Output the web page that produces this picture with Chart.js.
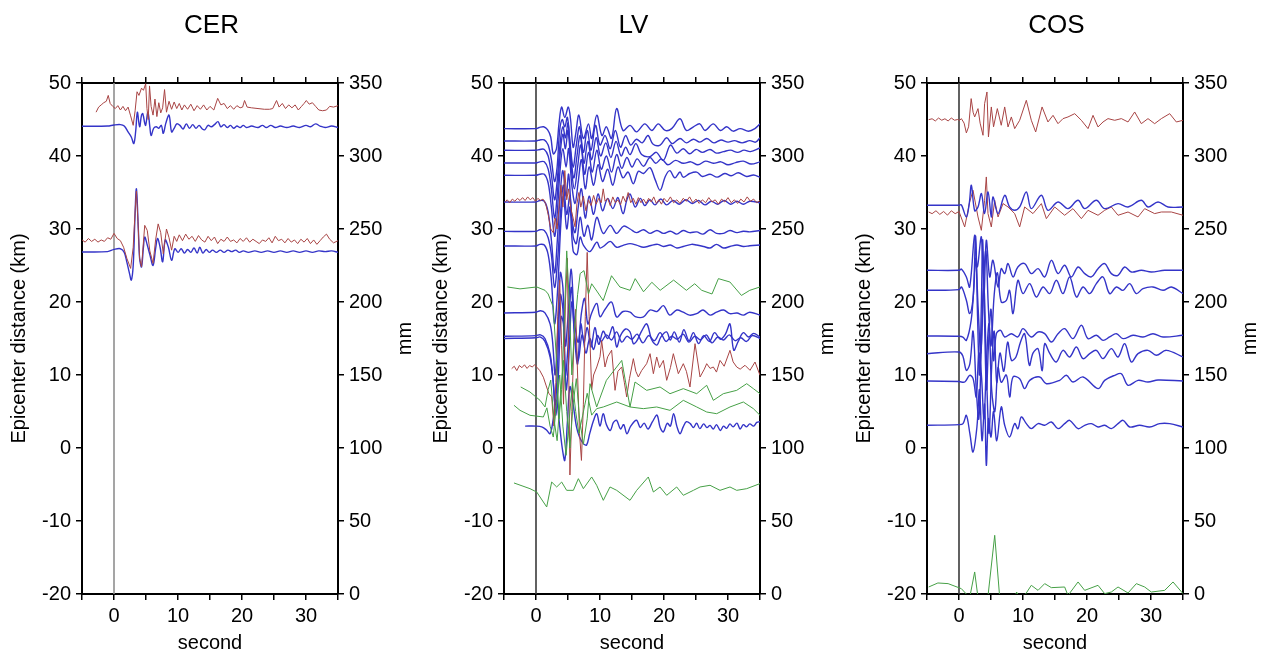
<!DOCTYPE html>
<html><head><meta charset="utf-8">
<script src="https://cdn.jsdelivr.net/npm/chart.js@4.4.1/dist/chart.umd.min.js"></script>
<style>
html,body{margin:0;padding:0;background:#fff;width:1270px;height:655px;overflow:hidden}
.p{position:absolute;top:0;width:423px;height:655px}
</style></head><body>
<div class="p" style="left:0px"><canvas id="c0" width="423" height="655"></canvas></div>
<div class="p" style="left:422px"><canvas id="c1" width="423" height="655"></canvas></div>
<div class="p" style="left:845px"><canvas id="c2" width="423" height="655"></canvas></div>
<script>
// ---------- labels / axes ----------
const panelTitles = ['CER', 'LV', 'COS'];
const xLabel = 'second';
const yLabel = 'Epicenter distance (km)';
const y2Label = 'mm';
const xRange = [-5, 35];
const yRange = [-20, 50];
const y2Range = [0, 350];
const xLabelTicks = [0, 10, 20, 30];

// ---------- CER traces [time s, epicenter km] ----------
const cerRed1 = [[-2.8,46.0],[-2.4,46.7],[-2.0,47.0],[-1.6,47.3],[-1.2,47.5],[-0.9,48.3],[-0.6,47.2],[-0.2,46.8],[0.2,46.5],[0.6,46.9],[1.0,46.3],[1.4,46.8],[1.8,46.2],[2.2,46.7],[2.6,45.5],[3.0,44.2],[3.3,46.2],[3.6,48.8],[3.9,48.3],[4.3,49.3],[4.6,49.0],[4.95,49.9],[5.15,46.5],[5.35,45.0],[5.55,49.6],[5.8,46.8],[6.1,45.6],[6.4,47.8],[6.7,45.4],[7.0,47.3],[7.3,45.9],[7.6,46.6],[7.9,49.1],[8.2,46.0],[8.6,47.5],[9.0,46.4],[9.4,47.4],[9.8,46.5],[10.2,47.2],[10.6,46.3],[11.0,47.0],[11.5,46.4],[12.0,47.1],[12.5,46.2],[13.0,46.9],[13.5,46.4],[14.0,47.0],[14.5,46.3],[15.0,46.8],[15.6,46.3],[16.2,47.9],[16.7,47.0],[17.2,47.2],[17.7,46.5],[18.2,46.9],[18.7,46.4],[19.2,46.9],[19.7,46.6],[20.1,46.7],[20.4,47.6],[20.8,46.7],[21.5,46.6],[22.5,46.5],[23.5,46.4],[24.3,46.4],[24.8,46.5],[25.4,47.6],[25.8,46.7],[26.3,47.2],[26.8,46.5],[27.3,47.0],[27.8,46.6],[28.3,47.0],[28.8,46.3],[29.3,46.8],[29.7,47.2],[30.05,47.6],[30.5,47.1],[31.0,47.3],[31.5,46.8],[32.0,46.3],[32.6,46.2],[33.2,46.3],[33.7,46.8],[34.3,46.7],[35.0,46.9]];
const cerBlue1 = [[-5,44.07],[-1,44.1],[0,44.25],[1,44.3],[1.6,44.1],[2.2,43.3],[2.7,42.6],[3.1,41.7],[3.4,43.5],[3.65,46.0],[4.0,44.0],[4.3,45.6],[4.5,45.8],[4.8,44.5],[4.95,44.2],[5.3,46.0],[5.6,44.0],[5.8,42.8],[6.2,43.8],[6.6,44.0],[7.0,43.8],[7.4,44.2],[7.7,43.1],[8.1,44.5],[8.6,45.6],[9.0,43.3],[9.4,43.8],[9.8,44.4],[10.3,44.2],[10.8,43.7],[11.3,44.4],[11.8,43.8],[12.3,44.3],[12.8,43.8],[13.3,44.2],[13.8,43.7],[14.2,43.6],[14.7,44.2],[15.2,44.0],[15.7,44.3],[16.25,44.7],[16.7,44.0],[17.2,44.3],[17.7,43.9],[18.2,44.2],[18.7,43.8],[19.2,44.1],[19.7,43.9],[20.2,44.2],[20.7,43.9],[21.5,44.1],[22.5,43.9],[23.2,44.2],[23.8,43.9],[24.5,44.2],[25.2,43.9],[26,44.1],[27,43.9],[28,44.1],[29,43.9],[30,44.2],[30.7,44.0],[31.5,44.4],[32.2,44.1],[33,43.9],[34,44.1],[35,43.9]];
const cerRed2 = [[-5,28.5],[-4.5,28.2],[-4,28.7],[-3.5,28.3],[-3,28.6],[-2.5,28.2],[-2,28.5],[-1.5,28.3],[-1,28.8],[-0.5,28.6],[0,29.4],[0.5,28.7],[1.0,28.4],[1.5,27.5],[2.0,26.0],[2.6,24.6],[3.0,27.5],[3.3,32.5],[3.5,35.2],[3.75,31.0],[4.0,26.0],[4.3,24.8],[4.8,30.5],[5.2,29.8],[5.6,27.0],[6.1,25.3],[6.5,28.5],[6.9,30.7],[7.3,29.5],[7.7,26.6],[8.2,30.0],[8.6,28.8],[9.0,27.1],[9.4,29.0],[9.8,28.3],[10.2,29.2],[10.7,28.4],[11.2,29.3],[11.7,28.6],[12.2,29.0],[12.7,28.3],[13.2,29.1],[13.7,28.5],[14.2,28.2],[14.7,29.0],[15.2,28.4],[15.7,28.9],[16.2,28.0],[16.7,28.6],[17.2,28.3],[17.7,28.9],[18.2,28.3],[18.7,28.5],[19.2,28.1],[19.7,28.7],[20.2,28.3],[20.7,28.8],[21.2,28.2],[21.7,28.6],[22.2,28.3],[22.7,28.0],[23.2,28.5],[23.7,28.3],[24.2,28.8],[24.7,28.1],[25.2,29.0],[25.7,28.4],[26.2,28.6],[26.7,28.1],[27.2,28.7],[27.7,28.2],[28.2,28.5],[28.7,28.0],[29.2,28.6],[29.7,28.2],[30.2,28.7],[30.7,28.0],[31.2,28.5],[31.7,27.9],[32.2,28.4],[32.7,28.9],[33.2,29.3],[33.7,28.6],[34.3,28.1],[35,28.4]];
const cerBlue2 = [[-5,26.85],[-1,26.9],[0,27.2],[1.0,27.3],[1.6,26.8],[2.0,25.5],[2.4,24.0],[2.7,23.0],[3.0,25.0],[3.25,31.0],[3.5,35.5],[3.8,30.0],[4.0,26.0],[4.3,24.8],[4.6,27.5],[4.8,28.9],[5.2,27.8],[5.6,26.5],[6.1,25.0],[6.5,27.3],[6.8,28.7],[7.2,27.5],[7.6,25.5],[8.0,28.5],[8.5,27.5],[9.0,25.7],[9.5,27.3],[10.0,26.8],[10.5,27.3],[11.0,26.7],[11.5,27.2],[12.0,26.8],[12.5,27.4],[13.0,26.7],[13.4,27.5],[13.9,26.7],[14.4,27.2],[14.9,26.8],[15.4,27.1],[16.0,26.8],[16.6,27.1],[17.2,26.8],[17.8,27.1],[18.4,26.9],[19.0,27.1],[19.6,26.8],[20.2,27.0],[21,26.8],[22,27.0],[23,26.8],[24,27.0],[25,26.8],[26,27.0],[27,26.8],[28,27.0],[29,26.8],[30,27.0],[31,26.8],[32,27.0],[33,26.9],[34,27.0],[35,26.8]];

// ---------- LV traces ----------
const lvBlue1 = [[-5,43.75],[0,43.75],[0.5,43.9],[1.2,44.0],[1.8,43.6],[2.3,42.6],[2.7,40.3],[3.2,41.0],[3.6,44.5],[4.0,46.7],[4.5,45.3],[5.05,46.7],[5.4,45.0],[5.8,41.2],[6.2,43.0],[6.7,45.6],[7.4,42.4],[8.2,44.4],[8.7,42.4],[9.5,45.6],[10.3,42.8],[11.0,44.0],[11.8,42.4],[12.6,46.5],[13.6,43.5],[14.7,44.2],[15.7,43.3],[17.0,44.4],[18.1,43.5],[19.1,44.4],[20.2,43.5],[21.2,43.75],[22.5,45.1],[23.5,43.5],[24.6,44.0],[25.6,44.4],[26.4,43.5],[27.7,44.4],[28.8,43.5],[29.8,44.0],[30.8,43.4],[31.9,43.75],[33.2,43.4],[34.2,43.75],[35,44.4]];
const lvBlue2 = [[-5,42.06],[0,42.06],[0.6,42.2],[1.3,42.2],[1.9,41.5],[2.4,39.5],[2.9,36.5],[3.3,38.5],[3.7,43.5],[4.1,45.0],[4.5,44.0],[4.9,45.3],[5.3,42.0],[5.8,38.5],[6.3,41.5],[6.8,44.0],[7.4,40.5],[8.0,43.5],[8.6,40.8],[9.3,44.2],[10.0,41.5],[10.8,42.8],[11.6,41.0],[12.4,43.5],[13.2,41.2],[14.0,42.8],[14.8,41.5],[15.7,42.3],[16.6,41.8],[17.5,42.8],[18.3,41.6],[19.4,41.5],[20.4,42.5],[21.3,41.7],[22.5,42.4],[23.5,41.8],[24.6,42.3],[25.6,41.9],[26.7,42.4],[27.8,41.8],[28.9,42.2],[30.0,41.9],[31.0,42.1],[32.2,41.8],[33.4,42.1],[34.3,41.9],[35,42.5]];
const lvBlue3 = [[-5,40.78],[0,40.78],[0.6,40.9],[1.3,40.9],[1.9,40.0],[2.4,37.5],[2.9,34.0],[3.3,36.5],[3.8,42.0],[4.2,44.0],[4.6,42.5],[5.0,44.5],[5.4,40.5],[5.9,37.0],[6.4,40.0],[6.9,42.8],[7.5,39.0],[8.1,42.0],[8.7,39.5],[9.4,42.5],[10.1,40.0],[10.9,41.8],[11.7,39.8],[12.5,42.0],[13.3,40.0],[14.0,41.2],[14.7,40.2],[15.6,41.7],[16.5,40.2],[17.8,39.9],[18.8,40.5],[19.9,39.4],[21.0,41.5],[22.0,40.4],[23.0,41.0],[24.0,40.3],[25.0,40.9],[26.0,40.5],[27.2,40.9],[28.2,40.4],[29.3,40.6],[30.4,40.8],[31.5,40.5],[32.5,40.8],[33.5,40.6],[35,41.1]];
const lvBlue4 = [[-5,39.05],[0,39.05],[0.6,39.2],[1.3,39.2],[1.9,38.2],[2.4,35.5],[2.9,31.5],[3.3,34.5],[3.8,40.5],[4.2,43.0],[4.6,41.0],[5.0,43.5],[5.5,38.5],[6.0,35.5],[6.5,38.5],[7.0,41.5],[7.6,37.5],[8.2,40.5],[8.8,37.8],[9.5,40.8],[10.2,38.2],[11.0,40.0],[11.8,37.8],[12.6,40.2],[13.4,38.3],[14.2,39.8],[15.0,38.5],[15.8,39.6],[16.8,38.6],[17.8,39.8],[18.7,39.0],[19.6,39.6],[20.6,38.8],[21.8,39.4],[23.0,39.0],[24.2,39.2],[25.3,38.8],[26.5,39.3],[27.7,39.0],[28.9,39.2],[30.0,38.8],[31.2,39.1],[32.4,39.3],[33.6,38.9],[35,39.2]];
const lvBlue5 = [[-5,37.36],[0,37.36],[0.6,37.5],[1.3,37.5],[1.9,36.3],[2.4,33.0],[2.9,29.0],[3.3,32.0],[3.8,38.5],[4.2,41.0],[4.7,38.5],[5.1,41.0],[5.6,36.0],[6.1,33.5],[6.6,36.5],[7.1,39.5],[7.7,35.5],[8.3,38.5],[9.0,36.0],[9.7,38.8],[10.4,36.5],[11.2,38.2],[12.0,36.0],[12.8,38.5],[13.6,37.0],[14.4,37.8],[15.2,36.2],[16.0,37.9],[16.8,37.6],[17.8,38.4],[18.6,36.8],[19.4,35.3],[20.2,37.2],[20.9,38.0],[21.7,37.0],[22.5,37.8],[23.0,37.1],[24.0,37.6],[25.1,37.8],[26.0,37.2],[27.2,37.5],[28.3,37.1],[29.5,37.6],[30.5,37.3],[31.6,37.7],[32.9,37.2],[34.0,37.4],[35,37.1]];
const lvBlue6 = [[-5,33.70],[0,33.70],[0.6,33.9],[1.3,33.8],[1.9,32.3],[2.4,28.5],[2.9,24.0],[3.3,28.0],[3.8,35.0],[4.2,38.0],[4.7,34.5],[5.1,37.5],[5.6,31.5],[6.1,29.5],[6.6,33.0],[7.1,35.5],[7.7,31.5],[8.3,34.5],[9.0,32.0],[9.7,34.8],[10.4,32.5],[11.2,34.2],[12.0,32.8],[12.8,34.3],[13.6,32.1],[14.2,34.0],[14.7,34.8],[15.5,33.0],[16.3,34.2],[17.0,33.2],[17.8,34.0],[18.6,33.3],[19.5,34.1],[20.4,33.3],[21.4,33.9],[22.4,33.4],[23.4,34.0],[24.4,33.5],[25.4,33.9],[26.4,33.3],[27.4,33.8],[28.4,33.4],[29.4,33.9],[30.4,33.4],[31.4,33.8],[32.4,33.4],[33.4,33.8],[35,33.6]];
const lvBlue7 = [[-5,29.68],[0,29.68],[0.6,29.9],[1.3,29.8],[1.9,28.8],[2.4,26.5],[2.9,22.0],[3.4,26.0],[3.9,33.0],[4.3,36.0],[4.8,32.0],[5.3,34.5],[5.8,29.0],[6.3,28.0],[6.9,31.6],[7.5,29.0],[8.1,30.5],[8.7,28.5],[9.5,31.6],[10.5,29.4],[11.6,30.5],[12.6,29.4],[13.7,30.4],[14.7,30.0],[15.7,29.5],[16.8,29.9],[17.8,29.4],[18.9,29.8],[19.9,29.4],[21.0,29.7],[22.0,29.3],[23.0,29.8],[24.0,29.5],[25.1,29.6],[26.1,29.3],[27.2,29.9],[28.2,29.4],[29.3,29.4],[30.3,29.8],[31.4,29.5],[32.4,29.7],[33.4,29.6],[35,29.8]];
const lvBlue8 = [[-5,27.68],[0,27.68],[0.6,27.9],[1.3,27.8],[1.9,26.5],[2.4,23.0],[2.9,17.0],[3.4,22.0],[3.9,31.0],[4.3,34.5],[4.8,30.0],[5.3,33.0],[5.8,27.0],[6.4,26.5],[6.9,28.9],[7.4,27.8],[8.4,26.9],[9.5,28.2],[10.0,27.4],[10.5,27.6],[11.6,28.3],[12.6,27.5],[13.7,27.8],[14.7,28.0],[15.7,27.8],[16.8,27.5],[17.8,27.7],[19.0,27.9],[19.9,27.6],[21.0,27.8],[22.0,27.4],[23.0,27.6],[24.3,27.9],[25.1,27.8],[26.2,27.6],[27.2,27.4],[28.2,27.9],[29.3,27.4],[30.3,27.6],[31.4,27.8],[32.4,27.6],[33.4,27.7],[35,27.8]];
const lvBlue9 = [[-5,18.5],[0,18.6],[0.7,18.8],[1.4,18.5],[2.2,17.0],[2.6,14.5],[3.0,10.0],[3.4,16.0],[3.8,24.0],[4.2,22.0],[4.6,14.0],[5.0,18.0],[5.5,24.5],[6.0,17.5],[6.6,14.5],[7.1,18.5],[7.6,20.5],[8.1,17.0],[8.7,18.5],[9.5,19.8],[10.0,18.0],[10.8,19.0],[11.8,20.0],[12.6,17.95],[13.6,18.7],[14.7,18.6],[15.5,18.0],[16.8,17.95],[17.8,18.9],[18.9,18.7],[19.9,19.5],[20.9,18.2],[22.0,18.9],[23.0,18.6],[24.0,18.2],[25.1,18.4],[26.1,18.9],[27.2,18.2],[28.2,18.6],[29.3,18.9],[30.3,18.4],[31.4,18.5],[32.4,18.2],[33.4,18.6],[35,18.2]];
const lvBlue10 = [[-5,15.3],[0,15.4],[0.7,15.5],[1.4,15.0],[2.2,12.9],[2.6,10.0],[3.0,6.0],[3.4,12.0],[3.8,21.0],[4.2,19.0],[4.6,10.0],[5.0,14.0],[5.5,22.0],[6.0,15.5],[6.5,11.5],[7.0,17.0],[7.5,14.5],[8.0,16.5],[8.6,13.8],[9.2,16.5],[9.8,14.2],[10.5,16.0],[11.2,15.0],[12.0,16.6],[12.6,13.84],[13.2,15.4],[14.0,16.3],[14.7,15.89],[15.2,14.3],[15.7,14.6],[16.5,16.0],[17.3,17.0],[18.1,14.8],[18.9,14.1],[19.5,15.2],[20.4,15.9],[21.0,14.8],[21.6,15.9],[22.4,14.5],[23.1,16.2],[23.9,14.7],[24.6,15.8],[25.4,14.3],[26.2,15.4],[27.1,14.6],[27.9,15.8],[28.8,14.9],[29.6,15.6],[30.3,17.0],[30.9,13.4],[31.6,14.6],[32.4,15.8],[33.2,15.2],[34.0,15.7],[35,15.2]];
const lvBlue11 = [[-5,15.0],[0,15.1],[0.7,15.2],[1.4,14.6],[2.2,12.5],[2.7,9.0],[3.1,4.5],[3.5,10.0],[3.9,18.0],[4.3,17.0],[4.7,8.0],[5.1,12.0],[5.6,20.0],[6.1,15.0],[6.6,12.0],[7.2,15.5],[7.8,13.0],[8.4,15.0],[9.0,13.5],[9.6,15.4],[10.2,14.6],[11.0,15.5],[11.8,14.8],[12.6,15.9],[13.4,14.5],[14.2,15.3],[15.0,14.9],[15.8,15.6],[16.7,14.4],[17.6,15.4],[18.5,14.7],[19.4,15.8],[20.3,14.6],[21.2,15.3],[22.1,14.9],[23.0,15.6],[23.9,14.5],[24.8,15.3],[25.7,14.8],[26.6,15.5],[27.5,14.4],[28.4,15.2],[29.3,14.8],[30.2,15.5],[31.1,14.7],[32.0,15.1],[32.9,14.6],[33.8,15.4],[35,15.0]];
const lvBlue12 = [[-1.7,3.0],[0,3.0],[0.9,2.9],[1.6,2.5],[2.2,1.96],[2.7,4.0],[3.2,6.5],[3.7,3.0],[4.1,0.0],[4.5,-1.7],[4.9,3.5],[5.3,8.4],[5.8,6.0],[6.3,3.0],[6.8,1.5],[7.4,0.6],[7.9,0.4],[8.4,2.0],[9.0,3.8],[9.5,4.7],[10.0,3.0],[10.5,4.7],[11.0,3.2],[11.6,2.4],[12.1,3.5],[12.6,3.8],[13.2,2.6],[13.7,3.2],[14.2,1.96],[14.8,3.0],[15.7,3.8],[16.3,2.8],[16.9,3.4],[17.5,2.6],[18.2,3.6],[18.9,4.5],[19.4,2.8],[19.9,2.2],[20.5,3.4],[21.0,3.0],[21.5,4.7],[22.0,3.0],[22.5,1.96],[23.0,2.9],[23.5,3.6],[24.1,3.34],[24.6,2.8],[25.1,3.4],[25.6,2.65],[26.2,3.3],[26.7,2.8],[27.2,3.1],[27.7,2.6],[28.2,3.2],[28.8,2.4],[29.3,3.0],[29.8,2.7],[30.3,3.3],[30.8,2.9],[31.4,3.4],[31.9,2.6],[32.4,3.2],[32.9,2.9],[33.4,3.3],[34.0,3.0],[34.5,3.5],[35,3.6]];
const lvRed1 = [[-4.85,33.7],[-4.5,34.0],[-4.1,33.6],[-3.7,34.1],[-3.3,33.8],[-2.9,34.2],[-2.5,33.9],[-2.1,34.3],[-1.7,33.9],[-1.3,34.4],[-0.9,34.0],[-0.5,34.3],[-0.1,33.8],[0.3,34.2],[0.7,33.9],[1.1,34.1],[1.5,33.5],[1.9,32.0],[2.3,30.0],[2.7,29.5],[3.0,31.5],[3.3,30.0],[3.6,33.0],[3.9,36.0],[4.2,33.0],[4.5,38.0],[4.8,34.0],[5.1,35.5],[5.4,33.0],[5.8,31.5],[6.1,30.3],[6.4,33.5],[6.7,35.0],[7.0,33.0],[7.4,34.5],[7.8,32.5],[8.2,34.0],[8.6,33.2],[9.0,34.6],[9.4,33.4],[9.8,34.2],[10.2,33.6],[10.5,35.5],[10.8,33.8],[11.2,34.2],[11.6,33.2],[12.0,34.4],[12.4,33.6],[12.8,34.0],[13.2,33.3],[13.6,34.5],[14.0,33.7],[14.4,35.0],[14.8,33.6],[15.2,34.2],[15.6,33.4],[16.0,34.3],[16.4,33.6],[16.8,34.1],[17.2,33.5],[17.6,34.2],[18.0,33.7],[18.4,34.4],[18.8,33.5],[19.2,34.0],[19.6,33.4],[20.0,34.2],[20.5,33.7],[21.0,34.4],[21.5,33.6],[22.0,34.0],[22.5,33.5],[23.0,34.2],[23.5,33.8],[24.0,34.4],[24.5,33.6],[25.0,34.1],[25.5,33.5],[26.0,34.0],[26.5,33.6],[27.0,34.3],[27.5,33.7],[28.0,34.0],[28.5,33.4],[29.0,34.1],[29.5,33.7],[30.0,34.3],[30.5,33.6],[31.0,34.0],[31.5,33.5],[32.0,34.1],[32.5,33.7],[33.0,34.4],[33.5,33.8],[34.0,34.1],[34.5,33.6],[35,33.9]];
const lvRed2 = [[-3.8,10.87],[-3.4,11.2],[-3.0,10.6],[-2.6,11.3],[-2.2,11.0],[-1.8,11.4],[-1.4,10.9],[-1.0,11.3],[-0.6,11.1],[-0.2,11.4],[0.2,11.0],[0.6,10.6],[1.15,9.7],[1.6,8.5],[2.0,7.5],[2.45,7.0],[2.8,3.0],[3.1,9.0],[3.4,18.0],[3.7,23.0],[4.0,14.0],[4.3,6.0],[4.6,20.0],[4.9,26.0],[5.15,8.0],[5.3,-3.7],[5.6,5.0],[5.9,14.0],[6.2,19.0],[6.5,10.0],[6.8,2.0],[7.1,-1.7],[7.4,6.0],[7.7,18.0],[8.0,26.8],[8.3,18.0],[8.7,8.0],[9.0,10.0],[9.5,11.1],[10.0,12.5],[10.26,14.7],[10.78,11.1],[11.2,12.5],[11.82,13.4],[12.35,7.9],[12.8,10.5],[13.39,11.1],[13.8,9.0],[14.17,6.99],[14.6,9.5],[15.21,12.24],[15.6,10.5],[15.99,9.73],[16.5,10.6],[17.29,11.55],[17.82,12.92],[18.34,10.18],[18.86,12.47],[19.3,11.0],[19.9,12.0],[20.42,9.27],[21.0,11.0],[21.46,12.92],[22.24,10.18],[23.02,11.55],[23.5,10.5],[24.06,8.36],[24.85,14.29],[25.63,9.73],[26.3,10.8],[26.67,11.55],[27.2,10.9],[27.71,11.1],[28.2,10.4],[28.75,12.0],[29.4,11.2],[30.31,13.38],[30.8,11.8],[31.36,11.1],[31.9,10.8],[32.66,11.33],[33.44,10.64],[34.22,11.78],[35,9.96]];
const lvGreen1 = [[-4.48,22.06],[-2.5,21.8],[0.11,22.06],[1.41,21.6],[1.9,21.1],[2.7,19.3],[3.2,12.0],[3.6,4.0],[4.0,8.0],[4.4,17.0],[4.8,27.0],[5.2,20.0],[5.6,10.0],[6.0,16.0],[6.5,21.0],[6.9,23.9],[7.5,24.3],[8.2,21.1],[8.7,22.5],[9.5,21.5],[10.5,20.2],[11.8,23.6],[13.1,22.06],[14.7,21.6],[15.5,23.2],[16.8,21.4],[18.1,22.7],[19.4,21.6],[21.5,23.0],[23.5,21.6],[24.8,22.5],[25.9,21.6],[27.5,21.1],[28.5,23.2],[30.3,22.74],[32.1,20.9],[33.4,21.6],[35,22.06]];
const lvGreen2 = [[-2.39,8.36],[-0.94,7.67],[0.63,6.53],[1.41,5.62],[1.9,8.0],[2.3,9.3],[2.8,4.0],[3.3,1.0],[3.8,7.0],[4.3,12.0],[4.8,5.0],[5.3,0.0],[5.8,6.0],[6.3,9.5],[6.8,4.0],[7.4,0.5],[8.0,4.0],[8.44,8.81],[9.48,5.62],[11.0,9.27],[13.4,12.0],[14.69,5.62],[15.47,9.04],[17.29,7.9],[19.38,8.36],[20.94,7.44],[23.02,8.13],[25.11,7.44],[26.67,8.59],[27.71,6.53],[29.27,7.44],[31.36,7.9],[32.92,8.81],[33.96,8.13],[35,7.44]];
const lvGreen3 = [[-3.44,5.85],[-2.5,5.16],[-0.94,4.48],[1.15,4.25],[1.7,5.5],[2.2,3.0],[2.7,1.5],[3.2,6.0],[3.7,10.0],[4.2,3.0],[4.7,-1.0],[5.2,4.0],[5.7,9.0],[6.2,5.0],[6.7,2.0],[7.3,4.5],[8.0,7.5],[8.7,4.5],[9.48,5.39],[10.52,5.62],[12.61,6.3],[14.69,5.62],[16.77,5.39],[18.86,5.62],[20.94,5.16],[23.02,6.53],[25.11,5.62],[26.67,4.93],[28.23,4.7],[30.31,5.62],[32.4,6.3],[33.96,5.39],[35,4.48]];
const lvGreen4 = [[-3.44,-4.79],[-0.94,-5.57],[0.11,-6.03],[1.67,-8.08],[2.45,-4.66],[3.23,-5.34],[4.01,-4.66],[4.79,-5.8],[5.84,-5.8],[6.62,-4.2],[7.4,-5.57],[8.7,-3.97],[9.48,-5.11],[10.52,-7.17],[11.56,-5.34],[12.61,-5.8],[14.69,-7.17],[15.73,-5.8],[17.55,-3.97],[18.34,-6.03],[19.38,-5.34],[20.42,-6.48],[21.98,-5.34],[23.02,-6.48],[24.59,-5.8],[25.63,-5.34],[27.19,-5.11],[28.75,-5.8],[30.31,-5.34],[31.36,-5.8],[32.92,-5.57],[35,-4.88]];

// ---------- COS traces ----------
const cosRed1 = [[-4.74,44.98],[-4.2,45.1],[-3.7,44.8],[-3.2,45.2],[-2.7,44.9],[-2.2,45.1],[-1.7,44.8],[-1.2,45.2],[-0.7,44.9],[-0.2,45.0],[0.11,44.89],[0.37,45.12],[0.8,44.5],[1.15,43.16],[1.5,44.0],[1.9,47.86],[2.2,46.0],[2.45,45.35],[2.97,46.49],[3.3,44.5],[3.75,42.84],[4.0,47.17],[4.37,48.77],[4.6,42.61],[5.05,46.72],[5.4,44.0],[5.99,46.49],[6.6,44.21],[7.14,46.72],[7.66,43.98],[8.18,45.35],[8.7,43.75],[9.48,44.89],[10.52,47.63],[11.3,44.89],[11.98,43.29],[12.98,46.72],[13.9,44.66],[14.69,45.57],[15.47,44.43],[16.25,45.12],[17.03,45.35],[18.08,45.8],[19.12,44.89],[20.16,43.75],[20.94,45.57],[21.72,43.98],[22.5,44.66],[23.28,45.12],[24.33,44.89],[25.37,45.12],[26.41,44.66],[27.45,46.03],[28.49,44.43],[29.53,45.12],[30.57,44.43],[31.62,45.12],[32.92,45.8],[33.96,44.66],[35,44.89]];
const cosBlue1 = [[-5,33.25],[0.0,33.25],[0.37,33.3],[1.15,31.65],[1.6,33.5],[1.93,35.99],[2.45,32.5],[2.97,33.02],[3.5,34.85],[4.0,32.11],[4.53,35.07],[5.05,31.65],[5.3,34.39],[6.1,32.11],[7.14,34.62],[7.9,33.02],[8.7,32.56],[9.48,33.02],[10.52,35.07],[11.3,32.79],[12.87,34.62],[13.9,32.56],[15.47,33.7],[17.03,32.79],[18.6,33.93],[19.64,32.79],[21.46,33.93],[22.76,32.79],[24.85,33.48],[26.41,33.02],[28.49,33.93],[29.53,33.02],[31.1,33.7],[32.66,33.02],[35,33.02]];
const cosRed2 = [[-4.74,32.33],[-4.2,32.1],[-3.6,32.5],[-3.0,32.0],[-2.4,32.4],[-1.8,31.9],[-1.2,32.5],[-0.6,32.1],[0.0,32.4],[0.89,30.28],[1.67,33.7],[2.19,35.3],[2.97,31.65],[3.49,29.82],[4.0,33.93],[4.27,37.13],[4.53,32.11],[5.05,30.28],[5.58,33.93],[6.1,31.65],[6.88,33.48],[7.66,33.02],[8.7,32.11],[9.48,30.28],[10.26,33.02],[11.56,32.11],[12.87,33.48],[13.65,31.42],[14.95,33.02],[16.51,31.88],[17.81,32.79],[19.12,31.42],[20.16,32.56],[21.72,31.88],[22.76,32.56],[23.8,33.02],[24.85,31.88],[26.41,32.33],[27.97,31.65],[29.01,32.79],[30.57,32.11],[31.62,32.33],[33.18,32.33],[35,31.88]];
const cosBlue2 = [[-5,24.34],[0.0,24.34],[0.4,24.5],[1.15,23.43],[1.67,22.06],[2.45,29.14],[2.85,24.8],[3.49,28.91],[3.9,21.15],[4.27,28.45],[4.8,23.43],[5.3,25.71],[6.1,22.06],[6.6,24.57],[7.14,23.89],[7.66,25.26],[8.44,23.43],[9.2,24.8],[10.26,25.26],[11.3,23.89],[12.35,24.57],[13.39,23.43],[14.43,25.71],[15.47,23.89],[16.51,25.03],[17.55,23.43],[18.6,24.8],[19.64,23.89],[20.68,23.43],[21.72,24.57],[22.76,25.26],[23.8,23.89],[24.85,23.66],[25.89,24.8],[26.93,24.11],[28.49,24.34],[30.05,24.11],[32.14,24.34],[35,24.34]];
const cosBlue3 = [[-5,21.6],[0.0,21.7],[0.4,22.06],[1.15,20.23],[1.67,18.41],[2.2,20.5],[2.6,26.0],[3.0,19.0],[3.4,13.0],[3.8,22.0],[4.2,27.0],[4.6,19.0],[5.0,14.0],[5.5,21.0],[6.0,24.0],[6.6,20.0],[7.4,20.23],[7.9,21.6],[8.44,18.41],[9.2,22.97],[10.0,21.15],[11.04,22.52],[12.08,20.69],[13.13,22.06],[14.17,21.15],[15.21,22.97],[16.25,21.15],[17.29,23.43],[18.34,20.69],[19.38,22.06],[20.42,21.15],[21.46,22.52],[22.5,23.43],[23.54,21.15],[24.59,22.06],[25.63,21.6],[26.67,22.52],[27.71,21.15],[28.75,21.83],[30.31,22.06],[31.88,21.6],[33.18,22.06],[35,21.15]];
const cosBlue4 = [[-5,15.34],[0.0,15.3],[0.6,15.2],[1.15,14.75],[1.9,17.49],[2.3,22.0],[2.6,29.0],[2.9,18.0],[3.2,10.0],[3.5,20.0],[3.7,28.5],[4.0,17.0],[4.3,8.0],[4.6,14.0],[5.0,19.0],[5.4,12.0],[5.84,15.66],[6.5,16.12],[7.14,15.21],[8.18,15.66],[9.2,15.21],[10.0,16.35],[11.3,15.21],[12.35,15.89],[13.39,15.66],[14.43,14.52],[15.47,15.66],[16.51,16.35],[17.81,14.98],[19.12,16.81],[20.16,14.98],[21.46,15.44],[22.5,14.75],[23.54,15.21],[24.59,15.66],[25.63,14.98],[27.19,15.44],[28.75,15.21],[30.31,15.66],[31.88,15.21],[35,15.44]];
const cosBlue5 = [[-5,12.92],[0.0,13.15],[0.6,12.6],[1.15,10.64],[1.7,11.55],[2.2,16.0],[2.7,8.0],[3.1,4.0],[3.5,14.0],[3.9,22.0],[4.3,10.0],[4.7,2.0],[5.1,11.0],[5.5,16.0],[5.9,9.0],[6.4,13.0],[7.0,10.5],[7.6,14.5],[8.2,12.0],[8.9,12.47],[9.6,14.5],[10.26,15.66],[11.0,11.33],[11.56,13.0],[12.35,13.6],[13.0,10.6],[13.39,14.29],[14.2,12.92],[15.2,11.78],[16.25,13.38],[17.29,12.47],[18.34,13.84],[19.38,12.24],[20.42,12.92],[21.46,13.38],[22.5,12.24],[23.8,13.61],[24.85,12.47],[25.89,14.29],[26.93,11.78],[27.97,12.92],[29.53,13.38],[30.83,12.7],[32.4,13.38],[35,12.47]];
const cosBlue6 = [[-5,9.18],[0.0,9.1],[0.9,9.04],[1.67,9.96],[2.2,9.5],[2.7,7.0],[3.1,13.0],[3.5,10.0],[3.9,4.0],[4.3,12.0],[4.7,17.0],[5.1,8.0],[5.6,5.0],[6.1,11.0],[6.6,9.0],[7.4,10.0],[7.92,6.99],[8.44,9.73],[9.48,9.5],[10.26,8.13],[11.04,9.27],[12.61,9.73],[13.65,8.81],[15.73,9.27],[16.77,9.96],[17.81,9.04],[19.38,9.73],[21.72,8.13],[22.76,9.27],[24.33,9.96],[25.37,10.18],[26.41,8.59],[27.97,9.27],[29.53,9.04],[31.1,9.32],[35,9.18]];
const cosBlue7 = [[-5,3.11],[0.0,3.2],[0.63,3.34],[1.15,4.48],[1.7,1.96],[2.19,-0.55],[2.8,2.88],[3.2,8.0],[3.6,1.0],[4.0,6.0],[4.27,-2.37],[4.6,4.0],[5.0,1.5],[5.4,5.0],[5.9,1.0],[6.6,5.62],[7.14,3.11],[7.9,1.51],[8.7,3.34],[9.2,2.65],[9.74,4.25],[10.52,3.34],[11.3,2.65],[12.35,3.34],[13.39,3.11],[14.43,3.56],[15.47,2.65],[16.51,3.34],[17.29,3.79],[18.6,2.65],[19.64,3.11],[20.68,3.34],[21.72,2.88],[22.76,3.11],[23.8,2.65],[24.85,3.34],[25.63,3.79],[26.67,2.88],[28.23,3.11],[29.79,2.88],[31.36,3.34],[32.92,3.34],[35,2.88]];
const cosGreen1 = [[-4.74,-19.04],[-3.3,-18.49],[-1.7,-18.58],[0.37,-19.27],[1.67,-20.5],[2.45,-16.98],[2.97,-20.5],[4.5,-20.5],[5.58,-11.96],[6.36,-20.5],[8.7,-20.5],[9.0,-19.73],[9.5,-20.5],[10.26,-20.2],[11.3,-18.81],[12.35,-19.5],[13.39,-18.58],[14.43,-19.13],[16.51,-19.04],[17.03,-20.2],[18.6,-18.35],[19.64,-19.5],[21.72,-18.81],[22.76,-19.95],[23.8,-19.73],[24.85,-19.04],[26.41,-19.86],[27.71,-18.58],[29.01,-19.04],[30.05,-19.73],[32.14,-19.5],[33.44,-18.35],[35,-19.95]];

// ---------- assembly ----------
const panels = [
  {title: panelTitles[0], zero: '#8f8f8f', traces: [
    ['red', cerRed1], ['blue', cerBlue1], ['red', cerRed2], ['blue', cerBlue2]]},
  {title: panelTitles[1], zero: '#3a3a3a', traces: [
    ['green', lvGreen1], ['green', lvGreen2], ['green', lvGreen3], ['green', lvGreen4],
    ['red', lvRed1], ['red', lvRed2],
    ['blue', lvBlue1], ['blue', lvBlue2], ['blue', lvBlue3], ['blue', lvBlue4], ['blue', lvBlue5], ['blue', lvBlue6],
    ['blue', lvBlue7], ['blue', lvBlue8], ['blue', lvBlue9], ['blue', lvBlue10], ['blue', lvBlue11], ['blue', lvBlue12]]},
  {title: panelTitles[2], zero: '#3a3a3a', traces: [
    ['green', cosGreen1], ['red', cosRed1], ['blue', cosBlue1], ['red', cosRed2],
    ['blue', cosBlue2], ['blue', cosBlue3], ['blue', cosBlue4], ['blue', cosBlue5], ['blue', cosBlue6], ['blue', cosBlue7]]}
];

const FONT = '"Liberation Sans", Arial, Helvetica, sans-serif';
const STYLE = {
  blue: {color: 'rgb(52,52,200)', width: 1.4, tension: 0.35},
  red: {color: 'rgb(168,68,68)', width: 1, tension: 0},
  green: {color: 'rgb(70,160,70)', width: 1, tension: 0}
};

// vertical line at t = 0, placed through the x scale
const zeroLine = {
  id: 'zeroLine',
  beforeDatasetsDraw(chart, args, opts) {
    const {ctx, chartArea: a, scales} = chart;
    const px = scales.x.getPixelForValue(0);
    ctx.save();
    ctx.strokeStyle = opts.color;
    ctx.lineWidth = 1.6;
    ctx.beginPath();
    ctx.moveTo(px, a.top);
    ctx.lineTo(px, a.bottom);
    ctx.stroke();
    ctx.restore();
  }
};

// right-hand axis title, reading bottom-to-top like the left one
const sideTitle = {
  id: 'sideTitle',
  afterDraw(chart, args, opts) {
    const {ctx, scales} = chart;
    const s = scales.yR;
    ctx.save();
    ctx.fillStyle = '#000';
    ctx.font = '20px ' + FONT;
    ctx.textAlign = 'center';
    ctx.textBaseline = 'middle';
    ctx.translate(s.right - 18, (s.top + s.bottom) / 2);
    ctx.rotate(-Math.PI / 2);
    ctx.fillText(opts.text, 0, 0);
    ctx.restore();
  }
};

const tickFont = {family: FONT, size: 20};
const titleFont = {family: FONT, size: 20};
const gridOpts = {drawOnChartArea: false, drawTicks: true, tickLength: 6, color: '#000', lineWidth: 1.5};
const borderOpts = {display: true, color: '#000', width: 2};

panels.forEach((p, i) => {
  new Chart(document.getElementById('c' + i), {
    type: 'line',
    data: {
      datasets: p.traces.map(([kind, pts]) => ({
        data: pts.map(q => ({x: q[0], y: q[1]})),
        borderColor: STYLE[kind].color,
        borderWidth: STYLE[kind].width,
        tension: STYLE[kind].tension,
        pointRadius: 0,
        fill: false,
        xAxisID: 'x',
        yAxisID: 'y'
      }))
    },
    options: {
      responsive: false,
      animation: false,
      events: [],
      layout: {padding: 0},
      plugins: {
        legend: {display: false},
        tooltip: {enabled: false},
        title: {display: true, text: p.title, color: '#000',
          font: {family: FONT, size: 26, weight: 'normal'}, padding: {top: 10, bottom: 0}},
        zeroLine: {color: p.zero},
        sideTitle: {text: y2Label}
      },
      scales: {
        x: {
          type: 'linear', position: 'bottom', min: xRange[0], max: xRange[1],
          ticks: {stepSize: 5, autoSkip: false, maxRotation: 0, color: '#000', font: tickFont, padding: 4,
            callback: v => xLabelTicks.includes(v) ? String(v) : ''},
          grid: gridOpts, border: borderOpts,
          title: {display: true, text: xLabel, color: '#000', font: titleFont, padding: {top: 0, bottom: 0}},
          afterFit: s => { s.height = 61; }
        },
        xTop: {
          type: 'linear', position: 'top', min: xRange[0], max: xRange[1],
          ticks: {stepSize: 5, display: false},
          grid: gridOpts, border: borderOpts,
          afterFit: s => { s.height = 41.8; }
        },
        y: {
          type: 'linear', position: 'left', min: yRange[0], max: yRange[1],
          ticks: {stepSize: 10, color: '#000', font: tickFont, padding: 5},
          grid: gridOpts, border: borderOpts,
          title: {display: true, text: yLabel, color: '#000', font: titleFont, padding: {top: 7, bottom: 0}},
          afterFit: s => { s.width = 82; }
        },
        yR: {
          type: 'linear', position: 'right', min: y2Range[0], max: y2Range[1],
          ticks: {stepSize: 50, color: '#000', font: tickFont, padding: 5},
          grid: gridOpts, border: borderOpts,
          title: {display: false},
          afterFit: s => { s.width = 85; }
        }
      }
    },
    plugins: [zeroLine, sideTitle]
  });
});
</script></body></html>
